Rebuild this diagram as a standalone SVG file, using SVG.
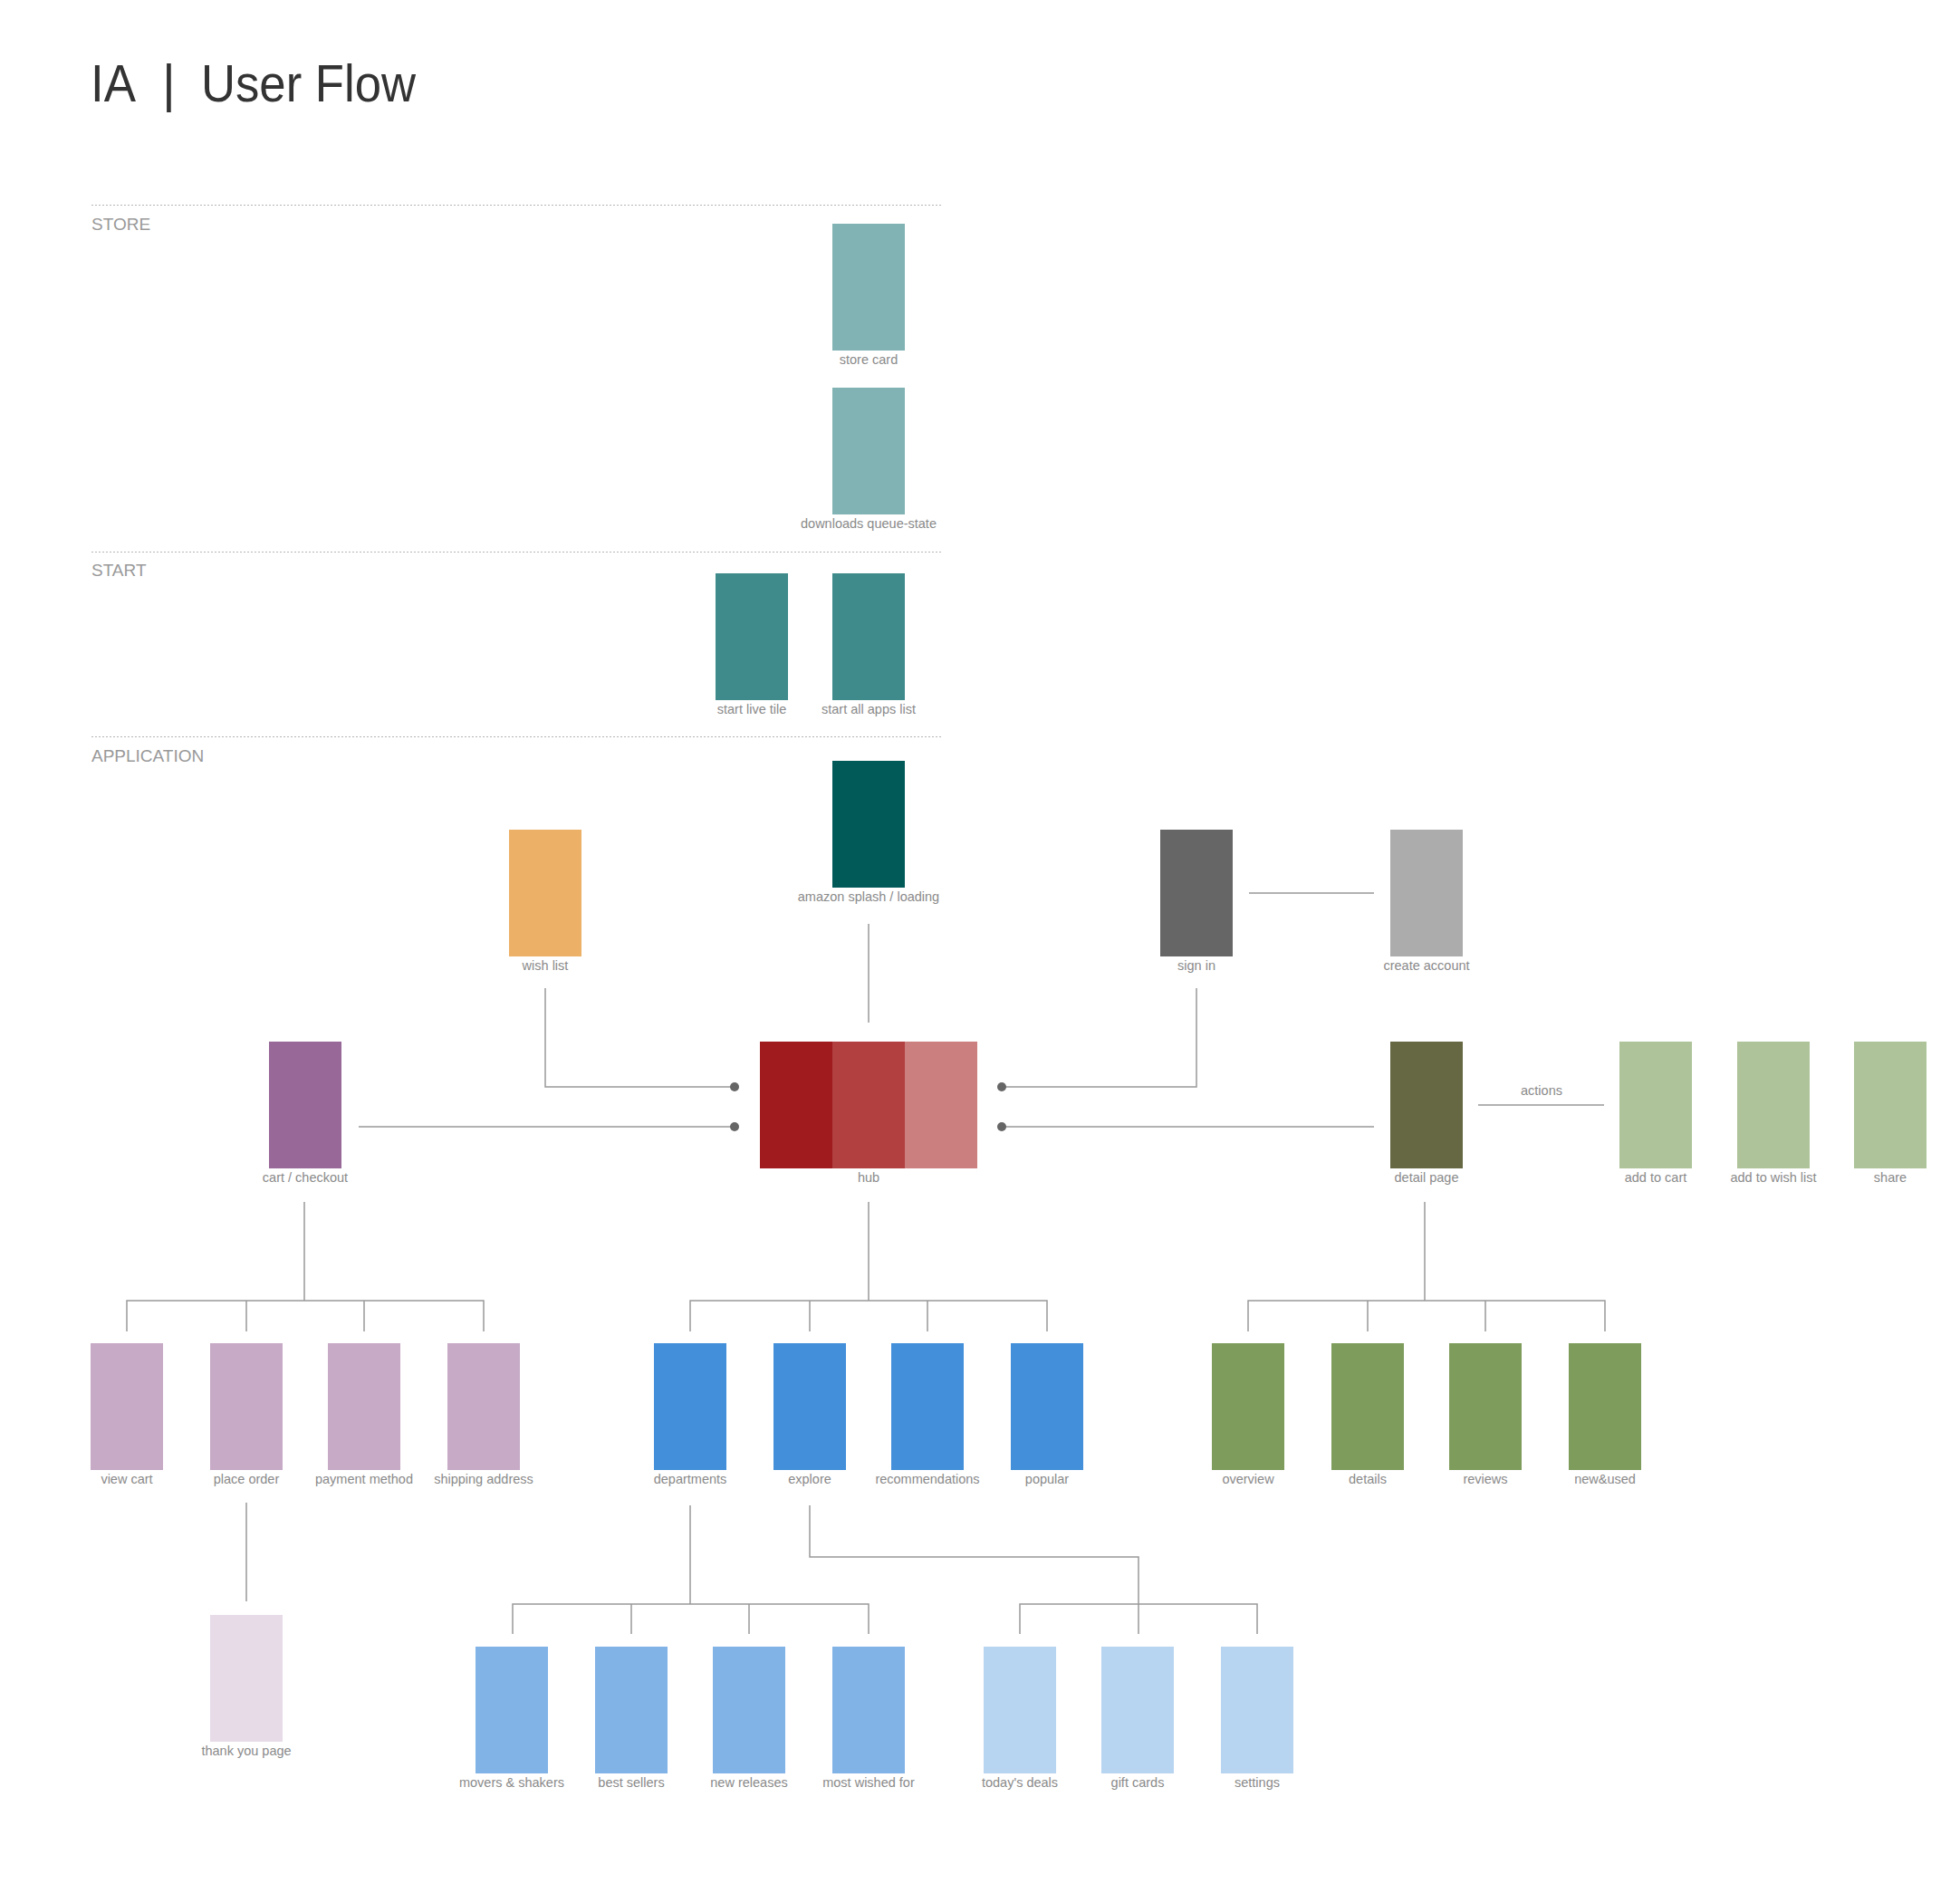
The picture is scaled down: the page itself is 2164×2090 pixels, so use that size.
<svg xmlns="http://www.w3.org/2000/svg" width="2164" height="2090" viewBox="0 0 2164 2090">
<style>
text{font-family:"Liberation Sans",Arial,sans-serif}
.title{font-size:57px;fill:#333;font-weight:300}
.sec{font-size:19px;fill:#999}
.lbl{font-size:14.5px;fill:#8a8a8a;text-anchor:middle}
.div{stroke:#b5b5b5;stroke-width:1;stroke-dasharray:2 2;fill:none}
.con{stroke:#999;stroke-width:1.5;fill:none}
.dot{fill:#666}
</style>
<rect width="2164" height="2090" fill="#fff"/>
<g id="title">
<text class="title" y="112"><tspan x="100" textLength="50" lengthAdjust="spacingAndGlyphs">IA</tspan><tspan x="179">|</tspan><tspan x="222" textLength="237" lengthAdjust="spacingAndGlyphs">User Flow</tspan></text>
</g>
<g id="sections">
<line class="div" x1="101" y1="226.5" x2="1041" y2="226.5"/>
<text class="sec" x="101" y="254">STORE</text>
<line class="div" x1="101" y1="609.5" x2="1041" y2="609.5"/>
<text class="sec" x="101" y="636">START</text>
<line class="div" x1="101" y1="813.5" x2="1041" y2="813.5"/>
<text class="sec" x="101" y="841">APPLICATION</text>
</g>
<g id="connectors">
<line class="con" x1="959" y1="1020" x2="959" y2="1129"/>
<polyline class="con" points="602,1091 602,1200 811,1200"/>
<line class="con" x1="396" y1="1244" x2="811" y2="1244"/>
<polyline class="con" points="1321,1091 1321,1200 1106,1200"/>
<line class="con" x1="1517" y1="1244" x2="1106" y2="1244"/>
<line class="con" x1="1379" y1="986" x2="1517" y2="986"/>
<line class="con" x1="1632" y1="1220" x2="1771" y2="1220"/>
<circle class="dot" cx="811" cy="1200" r="5"/>
<circle class="dot" cx="811" cy="1244" r="5"/>
<circle class="dot" cx="1106" cy="1200" r="5"/>
<circle class="dot" cx="1106" cy="1244" r="5"/>
<path class="con" d="M336 1327V1436M140 1470V1436H534V1470M272 1436V1470M402 1436V1470"/>
<line class="con" x1="272" y1="1659" x2="272" y2="1768"/>
<path class="con" d="M959 1327V1436M762 1470V1436H1156V1470M894 1436V1470M1024 1436V1470"/>
<path class="con" d="M1573 1327V1436M1378 1470V1436H1772V1470M1510 1436V1470M1640 1436V1470"/>
<path class="con" d="M762 1662V1771M566 1804V1771H959V1804M697 1771V1804M827 1771V1804"/>
<path class="con" d="M894 1662V1719H1257V1804M1126 1804V1771H1388V1804"/>
</g>
<text class="lbl" x="1702" y="1209">actions</text>
<g id="store-card"><rect x="919" y="247" width="80" height="140" fill="#81b3b4"/><text class="lbl" x="959" y="402">store card</text></g>
<g id="downloads"><rect x="919" y="428" width="80" height="140" fill="#81b3b4"/><text class="lbl" x="959" y="583">downloads queue-state</text></g>
<g id="start-live-tile"><rect x="790" y="633" width="80" height="140" fill="#3f8a8b"/><text class="lbl" x="830" y="788">start live tile</text></g>
<g id="start-all-apps"><rect x="919" y="633" width="80" height="140" fill="#3f8a8b"/><text class="lbl" x="959" y="788">start all apps list</text></g>
<g id="splash"><rect x="919" y="840" width="80" height="140" fill="#025a58"/><text class="lbl" x="959" y="995">amazon splash / loading</text></g>
<g id="wish-list"><rect x="562" y="916" width="80" height="140" fill="#edb067"/><text class="lbl" x="602" y="1071">wish list</text></g>
<g id="sign-in"><rect x="1281" y="916" width="80" height="140" fill="#666666"/><text class="lbl" x="1321" y="1071">sign in</text></g>
<g id="create-account"><rect x="1535" y="916" width="80" height="140" fill="#acacac"/><text class="lbl" x="1575" y="1071">create account</text></g>
<g id="cart-checkout"><rect x="297" y="1150" width="80" height="140" fill="#986899"/><text class="lbl" x="337" y="1305">cart / checkout</text></g>
<g id="hub"><rect x="839" y="1150" width="80" height="140" fill="#a01b1e"/><rect x="919" y="1150" width="80" height="140" fill="#b24041"/><rect x="999" y="1150" width="80" height="140" fill="#cc7f7f"/><text class="lbl" x="959" y="1305">hub</text></g>
<g id="detail-page"><rect x="1535" y="1150" width="80" height="140" fill="#666843"/><text class="lbl" x="1575" y="1305">detail page</text></g>
<g id="add-to-cart"><rect x="1788" y="1150" width="80" height="140" fill="#aec399"/><text class="lbl" x="1828" y="1305">add to cart</text></g>
<g id="add-to-wish-list"><rect x="1918" y="1150" width="80" height="140" fill="#aec399"/><text class="lbl" x="1958" y="1305">add to wish list</text></g>
<g id="share"><rect x="2047" y="1150" width="80" height="140" fill="#aec399"/><text class="lbl" x="2087" y="1305">share</text></g>
<g id="view-cart"><rect x="100" y="1483" width="80" height="140" fill="#c6aac6"/><text class="lbl" x="140" y="1638">view cart</text></g>
<g id="place-order"><rect x="232" y="1483" width="80" height="140" fill="#c6aac6"/><text class="lbl" x="272" y="1638">place order</text></g>
<g id="payment-method"><rect x="362" y="1483" width="80" height="140" fill="#c6aac6"/><text class="lbl" x="402" y="1638">payment method</text></g>
<g id="shipping-address"><rect x="494" y="1483" width="80" height="140" fill="#c6aac6"/><text class="lbl" x="534" y="1638">shipping address</text></g>
<g id="departments"><rect x="722" y="1483" width="80" height="140" fill="#438fd9"/><text class="lbl" x="762" y="1638">departments</text></g>
<g id="explore"><rect x="854" y="1483" width="80" height="140" fill="#438fd9"/><text class="lbl" x="894" y="1638">explore</text></g>
<g id="recommendations"><rect x="984" y="1483" width="80" height="140" fill="#438fd9"/><text class="lbl" x="1024" y="1638">recommendations</text></g>
<g id="popular"><rect x="1116" y="1483" width="80" height="140" fill="#438fd9"/><text class="lbl" x="1156" y="1638">popular</text></g>
<g id="overview"><rect x="1338" y="1483" width="80" height="140" fill="#7e9d5c"/><text class="lbl" x="1378" y="1638">overview</text></g>
<g id="details"><rect x="1470" y="1483" width="80" height="140" fill="#7e9d5c"/><text class="lbl" x="1510" y="1638">details</text></g>
<g id="reviews"><rect x="1600" y="1483" width="80" height="140" fill="#7e9d5c"/><text class="lbl" x="1640" y="1638">reviews</text></g>
<g id="new-used"><rect x="1732" y="1483" width="80" height="140" fill="#7e9d5c"/><text class="lbl" x="1772" y="1638">new&amp;used</text></g>
<g id="thank-you"><rect x="232" y="1783" width="80" height="140" fill="#e7dbe8"/><text class="lbl" x="272" y="1938">thank you page</text></g>
<g id="movers-shakers"><rect x="525" y="1818" width="80" height="140" fill="#81b3e6"/><text class="lbl" x="565" y="1973">movers &amp; shakers</text></g>
<g id="best-sellers"><rect x="657" y="1818" width="80" height="140" fill="#81b3e6"/><text class="lbl" x="697" y="1973">best sellers</text></g>
<g id="new-releases"><rect x="787" y="1818" width="80" height="140" fill="#81b3e6"/><text class="lbl" x="827" y="1973">new releases</text></g>
<g id="most-wished"><rect x="919" y="1818" width="80" height="140" fill="#81b3e6"/><text class="lbl" x="959" y="1973">most wished for</text></g>
<g id="todays-deals"><rect x="1086" y="1818" width="80" height="140" fill="#b7d4f0"/><text class="lbl" x="1126" y="1973">today's deals</text></g>
<g id="gift-cards"><rect x="1216" y="1818" width="80" height="140" fill="#b7d4f0"/><text class="lbl" x="1256" y="1973">gift cards</text></g>
<g id="settings"><rect x="1348" y="1818" width="80" height="140" fill="#b7d4f0"/><text class="lbl" x="1388" y="1973">settings</text></g>
</svg>
